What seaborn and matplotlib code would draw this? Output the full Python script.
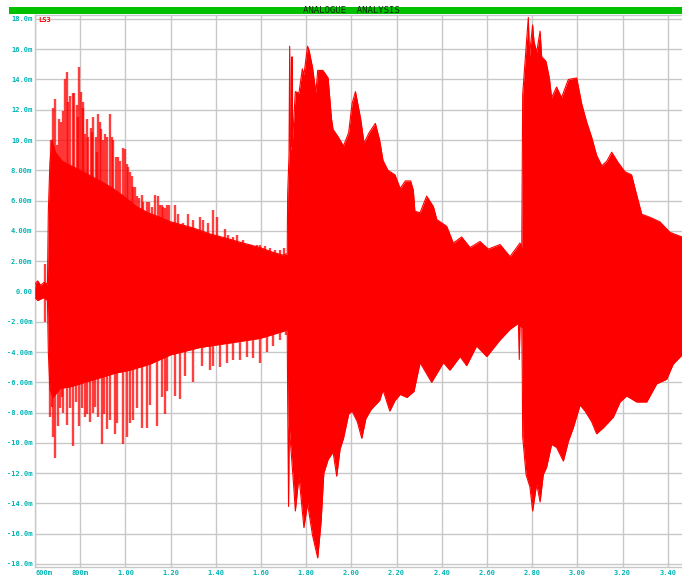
import matplotlib
matplotlib.use("Agg")
import matplotlib.pyplot as plt
from matplotlib.patches import Rectangle
from matplotlib.ticker import MultipleLocator
import numpy as np
import pandas as pd
import seaborn as sns

# LS3 trace: outer envelope, time in seconds, voltage in mV
upper_t = [0.600, 0.612, 0.625, 0.640, 0.655, 0.659, 0.666, 0.675, 0.690, 0.720,
           0.760, 0.800, 0.850, 0.900, 0.945, 1.000, 1.050, 1.100, 1.153, 1.200,
           1.299, 1.374, 1.450, 1.520, 1.596, 1.650, 1.697, 1.716,
           1.718, 1.724, 1.727, 1.730, 1.735, 1.737, 1.740, 1.752, 1.768, 1.783,
           1.790, 1.806, 1.813, 1.828, 1.843, 1.851, 1.874, 1.897, 1.912, 1.919,
           1.942, 1.965, 1.988, 2.003, 2.018, 2.041, 2.056, 2.079, 2.106, 2.125,
           2.140, 2.162, 2.193, 2.216, 2.239, 2.262, 2.274, 2.281, 2.304, 2.333,
           2.363, 2.378, 2.422, 2.451, 2.488, 2.525, 2.569, 2.606, 2.658, 2.702,
           2.746, 2.754,
           2.756, 2.758, 2.773, 2.783, 2.788, 2.793, 2.802, 2.808, 2.820, 2.835,
           2.842, 2.861, 2.876, 2.886, 2.908, 2.930, 2.960, 2.997, 3.019, 3.041,
           3.063, 3.085, 3.108, 3.130, 3.152, 3.181, 3.211, 3.240, 3.262, 3.285,
           3.321, 3.365, 3.410, 3.463]
upper_mv = [0.5, 0.7, 0.4, 0.6, 0.5, 5.3, 8.5, 10.0, 9.2, 8.6,
            8.3, 8.0, 7.6, 7.2, 6.8, 6.2, 5.6, 5.2, 4.9, 4.6,
            4.2, 3.8, 3.5, 3.2, 2.9, 2.6, 2.4, 2.5,
            6.4, 9.0, 16.2, 9.3, 9.6, 15.5, 10.0, 13.2, 13.1, 14.7,
            14.3, 16.2, 15.9, 14.8, 13.1, 14.6, 14.6, 14.1, 11.4, 10.7,
            10.2, 9.6, 10.5, 12.4, 13.2, 11.4, 9.8, 10.5, 11.1, 10.0,
            8.65, 8.0, 7.7, 6.8, 7.3, 7.3, 6.7, 5.3, 5.2, 6.3,
            5.6, 4.75, 4.3, 3.2, 3.6, 2.9, 3.3, 2.8, 3.1, 2.3,
            3.2, 2.9,
            8.0, 13.0, 16.1, 18.1, 15.5, 16.3, 17.6, 16.5, 15.8, 17.2,
            15.5, 15.2, 14.1, 12.8, 13.5, 12.8, 14.0, 14.1, 12.4, 11.2,
            10.2, 9.0, 8.3, 8.6, 9.2, 8.5, 7.9, 7.7, 6.4, 5.1,
            4.9, 4.6, 3.9, 3.6]

lower_t = [0.600, 0.612, 0.625, 0.640, 0.655, 0.659, 0.666, 0.680, 0.711, 0.755,
           0.800, 0.843, 0.888, 0.954, 1.020, 1.109, 1.197, 1.330, 1.463, 1.596,
           1.706, 1.716,
           1.718, 1.722, 1.725, 1.730, 1.745, 1.752, 1.768, 1.790, 1.806, 1.828,
           1.851, 1.866, 1.878, 1.897, 1.919, 1.935, 1.950, 1.965, 1.988, 2.003,
           2.026, 2.046, 2.064, 2.087, 2.125, 2.140, 2.170, 2.193, 2.216, 2.246,
           2.277, 2.304, 2.355, 2.407, 2.436, 2.481, 2.510, 2.554, 2.599, 2.658,
           2.702, 2.739, 2.743, 2.746, 2.754,
           2.756, 2.758, 2.773, 2.790, 2.802, 2.820, 2.835, 2.849, 2.864, 2.886,
           2.908, 2.938, 2.960, 2.982, 3.012, 3.034, 3.063, 3.085, 3.115, 3.159,
           3.189, 3.218, 3.262, 3.307, 3.351, 3.395, 3.424, 3.463]
lower_mv = [-0.4, -0.6, -0.5, -0.4, -0.6, -4.0, -6.5, -7.0, -6.4, -6.3,
            -6.1, -5.9, -5.7, -5.4, -5.2, -4.8, -4.2, -3.7, -3.4, -3.1,
            -2.6, -2.5,
            -7.0, -14.2, -9.0, -9.9, -12.9, -14.5, -12.2, -15.6, -14.0, -16.1,
            -17.6, -15.2, -12.0, -11.1, -10.6, -12.2, -10.4, -9.7, -8.1, -7.9,
            -8.6, -9.7, -8.4, -7.8, -7.2, -6.5, -7.9, -7.2, -6.8, -7.0,
            -6.6, -4.7, -6.0, -4.7, -5.2, -4.3, -4.9, -3.6, -4.3, -3.2,
            -2.5, -2.1, -4.5, -2.2, -2.4,
            -5.0, -9.6, -12.1, -12.9, -14.5, -12.7, -13.9, -12.1, -11.6, -10.1,
            -10.3, -11.2, -9.9, -9.0, -7.5, -7.9, -8.6, -9.4, -9.0, -8.3,
            -7.3, -6.9, -7.3, -7.3, -6.1, -5.8, -4.8, -4.2]

# Separate peaks of the first note (positive and negative swings)
peak_hi_t = [0.644, 0.669, 0.672, 0.678, 0.688, 0.696, 0.708, 0.715, 0.725, 0.734,
             0.740, 0.747, 0.755, 0.767, 0.774, 0.785, 0.789, 0.796, 0.804, 0.811,
             0.814, 0.821, 0.829, 0.836, 0.846, 0.851, 0.855, 0.869, 0.873, 0.880,
             0.888, 0.891, 0.902, 0.910, 0.920, 0.932, 0.939, 0.944, 0.958, 0.969,
             0.976, 0.991, 0.998, 1.006, 1.013, 1.020, 1.028, 1.035, 1.042, 1.050,
             1.062, 1.072, 1.079, 1.094, 1.106, 1.116, 1.131, 1.146, 1.153, 1.161,
             1.168, 1.175, 1.183, 1.194, 1.219, 1.234, 1.256, 1.278, 1.300, 1.330,
             1.345, 1.367, 1.389, 1.404, 1.441, 1.455, 1.477, 1.492, 1.522, 1.551,
             1.581, 1.596, 1.618, 1.640, 1.662, 1.684, 1.702]
peak_hi_mv = [1.8, 7.9, 10.0, 12.1, 12.7, 9.7, 11.4, 11.2, 11.9, 14.0,
              14.5, 12.5, 12.9, 13.1, 13.1, 12.3, 11.5, 14.8, 13.2, 12.1,
              12.5, 10.4, 11.4, 10.2, 10.8, 10.5, 11.5, 10.2, 9.2, 11.7,
              11.2, 10.7, 10.0, 10.4, 10.2, 11.7, 10.2, 10.0, 8.9, 8.9,
              8.6, 9.5, 9.4, 8.4, 8.2, 7.9, 7.6, 6.9, 6.9, 6.3,
              6.2, 6.4, 5.9, 5.9, 5.9, 5.6, 6.4, 6.3, 5.7, 5.7,
              5.6, 5.5, 5.7, 5.7, 5.7, 5.1, 4.5, 5.1, 4.75, 4.95,
              4.7, 4.5, 5.4, 4.95, 4.1, 3.7, 3.6, 3.7, 3.4, 3.1,
              3.1, 3.1, 3.0, 2.9, 2.75, 2.75, 2.9]
peak_lo_t = [0.644, 0.666, 0.674, 0.681, 0.688, 0.703, 0.711, 0.718, 0.725, 0.743,
             0.755, 0.769, 0.780, 0.796, 0.807, 0.821, 0.831, 0.843, 0.855, 0.865,
             0.880, 0.895, 0.905, 0.917, 0.932, 0.954, 0.964, 0.988, 1.006, 1.020,
             1.035, 1.050, 1.072, 1.094, 1.109, 1.138, 1.161, 1.175, 1.185, 1.219,
             1.242, 1.264, 1.300, 1.338, 1.374, 1.389, 1.419, 1.448, 1.477, 1.507,
             1.537, 1.566, 1.596, 1.625, 1.654, 1.684, 1.711]
peak_lo_mv = [-2.0, -8.3, -7.6, -9.6, -11.0, -8.9, -7.7, -7.0, -8.0, -8.8,
              -7.7, -10.2, -7.3, -8.9, -7.7, -8.3, -8.1, -8.6, -8.0, -7.6,
              -8.3, -10.1, -8.1, -9.1, -8.5, -9.4, -8.7, -10.1, -9.6, -8.7,
              -8.5, -7.7, -9.0, -9.0, -7.5, -8.9, -7.0, -8.1, -6.6, -6.9,
              -7.1, -5.6, -6.0, -4.9, -5.2, -4.9, -5.0, -4.7, -4.5, -4.5,
              -4.3, -4.4, -4.7, -4.0, -3.6, -3.2, -2.9]

x_ticks = [0.6, 0.8, 1.0, 1.2, 1.4, 1.6, 1.8, 2.0, 2.2, 2.4, 2.6, 2.8, 3.0, 3.2, 3.4]
x_tick_labels = ["600m", "800m", "1.00", "1.20", "1.40", "1.60", "1.80", "2.00",
                 "2.20", "2.40", "2.60", "2.80", "3.00", "3.20", "3.40"]
y_ticks = [18, 16, 14, 12, 10, 8, 6, 4, 2, 0, -2, -4, -6, -8, -10, -12, -14, -16, -18]
y_tick_labels = ["18.0m", "16.0m", "14.0m", "12.0m", "10.0m", "8.00m", "6.00m",
                 "4.00m", "2.00m", "0.00", "-2.00m", "-4.00m", "-6.00m", "-8.00m",
                 "-10.0m", "-12.0m", "-14.0m", "-16.0m", "-18.0m"]

TRACE = "#ff0000"
GRID = "#c8c8c8"
LABEL = "#00b4b4"
MONO = "DejaVu Sans Mono"

sns.set_theme(style="white")
plt.rcParams["font.family"] = [MONO, "DejaVu Sans"]

W, H = 682, 575
fig = plt.figure(figsize=(W / 100, H / 100), dpi=100, facecolor="white")
ax = fig.add_axes([35 / W, 8 / H, (W - 35) / W, (567 - 15) / H])
ax.set_facecolor("white")

upper = pd.DataFrame({"t": upper_t, "v": upper_mv})
lower = pd.DataFrame({"t": lower_t, "v": lower_mv})

# the two halves overlap slightly around zero so no seam shows
ax.fill_between(upper["t"], -0.3, upper["v"], color=TRACE, lw=0, zorder=3)
ax.fill_between(lower["t"], lower["v"], 0.3, color=TRACE, lw=0, zorder=3)
sns.lineplot(data=upper, x="t", y="v", color=TRACE, lw=0.8, sort=False,
             estimator=None, ax=ax, zorder=4)
sns.lineplot(data=lower, x="t", y="v", color=TRACE, lw=0.8, sort=False,
             estimator=None, ax=ax, zorder=4)

ax.vlines(peak_hi_t, 0, peak_hi_mv, color=TRACE, lw=1.7, alpha=0.75, zorder=3)
ax.vlines(peak_lo_t, peak_lo_mv, 0, color=TRACE, lw=1.7, alpha=0.75, zorder=3)

ax.set_xlim(0.6, 3.463)
ax.set_ylim(-18.2, 18.26)
ax.set_xlabel("")
ax.set_ylabel("")

ax.set_xticks(x_ticks, labels=x_tick_labels)
ax.set_yticks(y_ticks, labels=y_tick_labels)
ax.xaxis.set_minor_locator(MultipleLocator(0.02))
ax.yaxis.set_minor_locator(MultipleLocator(0.2))
ax.tick_params(axis="both", which="major", length=0, labelsize=5,
               labelcolor=LABEL, pad=2)
ax.tick_params(axis="both", which="minor", direction="in", length=2,
               width=0.6, color="#a8a8a8")
for lab in ax.get_xticklabels() + ax.get_yticklabels():
    lab.set_fontweight("bold")
ax.get_xticklabels()[0].set_horizontalalignment("left")

ax.grid(True, which="major", color=GRID, lw=1.0)
ax.set_axisbelow(True)
for side in ("left", "bottom", "top"):
    ax.spines[side].set_color(GRID)
    ax.spines[side].set_linewidth(1.0)
ax.spines["right"].set_visible(False)

ax.text(3 / (W - 35), 1 - 2 / (567 - 15), "LS3", transform=ax.transAxes,
        color=TRACE, fontsize=5, fontweight="bold", ha="left", va="top", zorder=6)

# title bar
fig.add_artist(Rectangle((9 / W, 1 - 14 / H), (W - 9) / W, 7 / H,
                         transform=fig.transFigure, color="#00c000", lw=0))
fig.text(351 / W, 1 - 10.5 / H, "ANALOGUE  ANALYSIS", color="#0c2a0c",
         fontsize=6.5, ha="center", va="center")

fig.savefig("out.png", dpi=100, facecolor="white")
